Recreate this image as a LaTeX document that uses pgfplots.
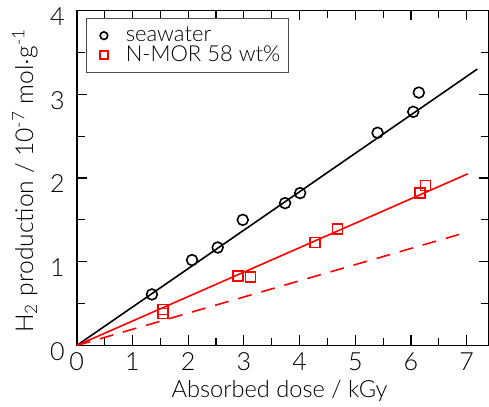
\documentclass[border=0pt]{standalone}
\usepackage{pgfplots}
\pgfplotsset{compat=1.18}
\usepackage{fontspec}
\setmainfont{Lato Light}
\begin{document}
\begin{tikzpicture}
\begin{axis}[
  scale only axis,
  width=206pt, height=167.4pt,
  xmin=0, xmax=7.4, ymin=0, ymax=4,
  xtick={0,1,...,7}, ytick={0,1,...,4},
  minor xtick={0.5,1.5,...,7.0}, minor ytick={0.5,1.5,...,3.5},
  tick align=inside,
  major tick length=5pt, minor tick length=4pt,
  every tick/.style={black, line width=0.6pt},
  axis line style={line width=0.8pt},
  tick label style={font=\fontsize{12.5}{14}\selectfont},
  yticklabel style={xshift=-2.5pt, yshift=-3pt},
  /pgf/number format/assume math mode=true,
  xlabel={Absorbed dose / kGy},
  ylabel={H\textsubscript{2} production / 10\textsuperscript{-7} mol$\cdot$g\textsuperscript{-1}},
  xlabel style={font=\fontsize{11.8}{14}\selectfont, at={(axis cs:3.64,-0.62)}, anchor=base},
  ylabel style={font=\fontsize{12.3}{14}\selectfont, at={(axis cs:-0.93,1.97)}, anchor=center},
  legend style={at={(axis cs:0.16,3.907)}, anchor=north west, draw=black!70, line width=0.5pt,
    font=\fontsize{11}{12}\selectfont, row sep=-3.5pt, inner sep=2pt},
  legend cell align=left,
  legend image code/.code={
    \path (0pt,0pt) (15pt,0pt);
    \draw[#1, mark size=1.9pt] plot coordinates {(6.5pt,0pt)};
  },
]
\addplot[black, only marks, mark=o, mark size=2.7pt, line width=0.8pt] coordinates {
  (1.35,0.61) (2.07,1.02) (2.53,1.17) (2.98,1.50) (3.74,1.70)
  (4.01,1.82) (5.40,2.54) (6.04,2.79) (6.14,3.02)};
\addlegendentry{seawater}
\addplot[red, only marks, mark=square, mark size=2.5pt, line width=0.8pt] coordinates {
  (1.55,0.43) (1.55,0.38) (2.89,0.83) (3.12,0.82) (4.28,1.23)
  (4.68,1.39) (6.16,1.82) (6.26,1.91)};
\addlegendentry{N-MOR 58 wt\%\hspace{10.5pt}}
\addplot[black, line width=0.8pt, forget plot] coordinates {(0,0) (7.19,3.30)};
\addplot[red, line width=0.8pt, forget plot] coordinates {(0,0) (7.02,2.05)};
\addplot[red, line width=0.8pt, dashed, dash pattern=on 7pt off 5pt, forget plot] coordinates {(0,0) (6.99,1.35)};
\coordinate (bl) at (axis cs:-1.377,-0.725);
\coordinate (tr) at (axis cs:7.4,4.125);
\end{axis}
\pgfresetboundingbox
\path[use as bounding box] (bl) rectangle (tr);
\end{tikzpicture}
\end{document}
